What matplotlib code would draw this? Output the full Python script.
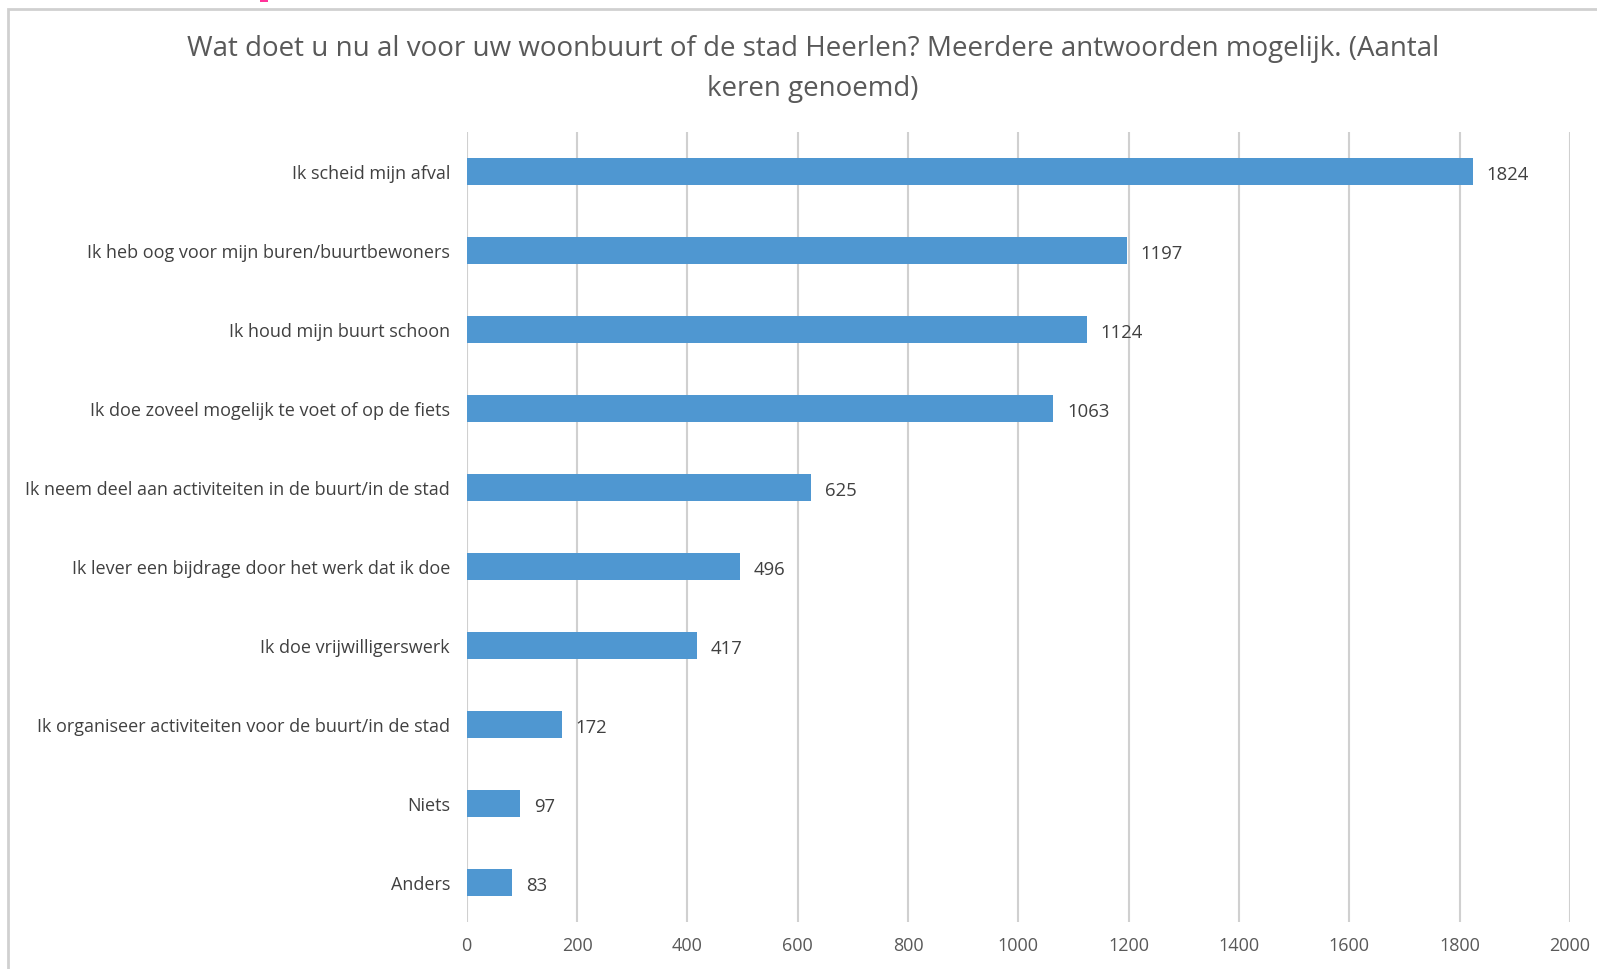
import matplotlib
matplotlib.use("Agg")
import matplotlib.pyplot as plt
from matplotlib.patches import Rectangle

categories = [
    "Ik scheid mijn afval",
    "Ik heb oog voor mijn buren/buurtbewoners",
    "Ik houd mijn buurt schoon",
    "Ik doe zoveel mogelijk te voet of op de fiets",
    "Ik neem deel aan activiteiten in de buurt/in de stad",
    "Ik lever een bijdrage door het werk dat ik doe",
    "Ik doe vrijwilligerswerk",
    "Ik organiseer activiteiten voor de buurt/in de stad",
    "Niets",
    "Anders",
]
counts = [1824, 1197, 1124, 1063, 625, 496, 417, 172, 97, 83]
xticks = list(range(0, 2001, 200))
title = ("Wat doet u nu al voor uw woonbuurt of de stad Heerlen? Meerdere antwoorden mogelijk. (Aantal\n"
         "keren genoemd)")

plt.rcParams["font.family"] = ["Open Sans", "DejaVu Sans"]
txt = "#595959"

fig = plt.figure(figsize=(15.97, 9.70), dpi=100)
# outer chart frame (cut off at right/bottom)
fig.patches.append(Rectangle((8 / 1597, -0.05), 1.2, 1 - 10 / 970 + 0.05,
                             transform=fig.transFigure, fill=False,
                             edgecolor="#d0d0d0", lw=2))
fig.patches.append(Rectangle((260 / 1597, 1 - 3 / 970), 8 / 1597, 3 / 970,
                             transform=fig.transFigure, color="#ff3399", lw=0))

ax = fig.add_axes([466.7 / 1597, 1 - 923 / 970, (1570 - 466.7) / 1597, (923 - 133) / 970])
y = list(range(len(categories)))
ax.barh(y, counts, height=0.34, color="#4f97d1", zorder=3)
for yi, v in zip(y, counts):
    ax.text(v + 25, yi + 0.03, str(v), va="center", ha="left", fontsize=13.3, color="#404040")
ax.set_ylim(len(categories) - 0.5, -0.5)
ax.set_xlim(0, 2000)
ax.set_yticks(y)
ax.set_yticklabels(categories, fontsize=13, color="#404040")
ax.set_xticks(xticks)
ax.set_xticklabels([str(t) for t in xticks], fontsize=13, color=txt)
ax.tick_params(axis="y", length=0, pad=12)
ax.tick_params(axis="x", length=0, pad=10)
ax.grid(axis="x", color="#d0d0d0", lw=1.5, zorder=0)
for s in ax.spines.values():
    s.set_visible(False)

fig.text(813 / 1597, 1 - 69 / 970, title, ha="center", va="center",
         fontsize=20, color=txt, linespacing=1.6)

fig.savefig("out.png", dpi=100)
plt.close(fig)
